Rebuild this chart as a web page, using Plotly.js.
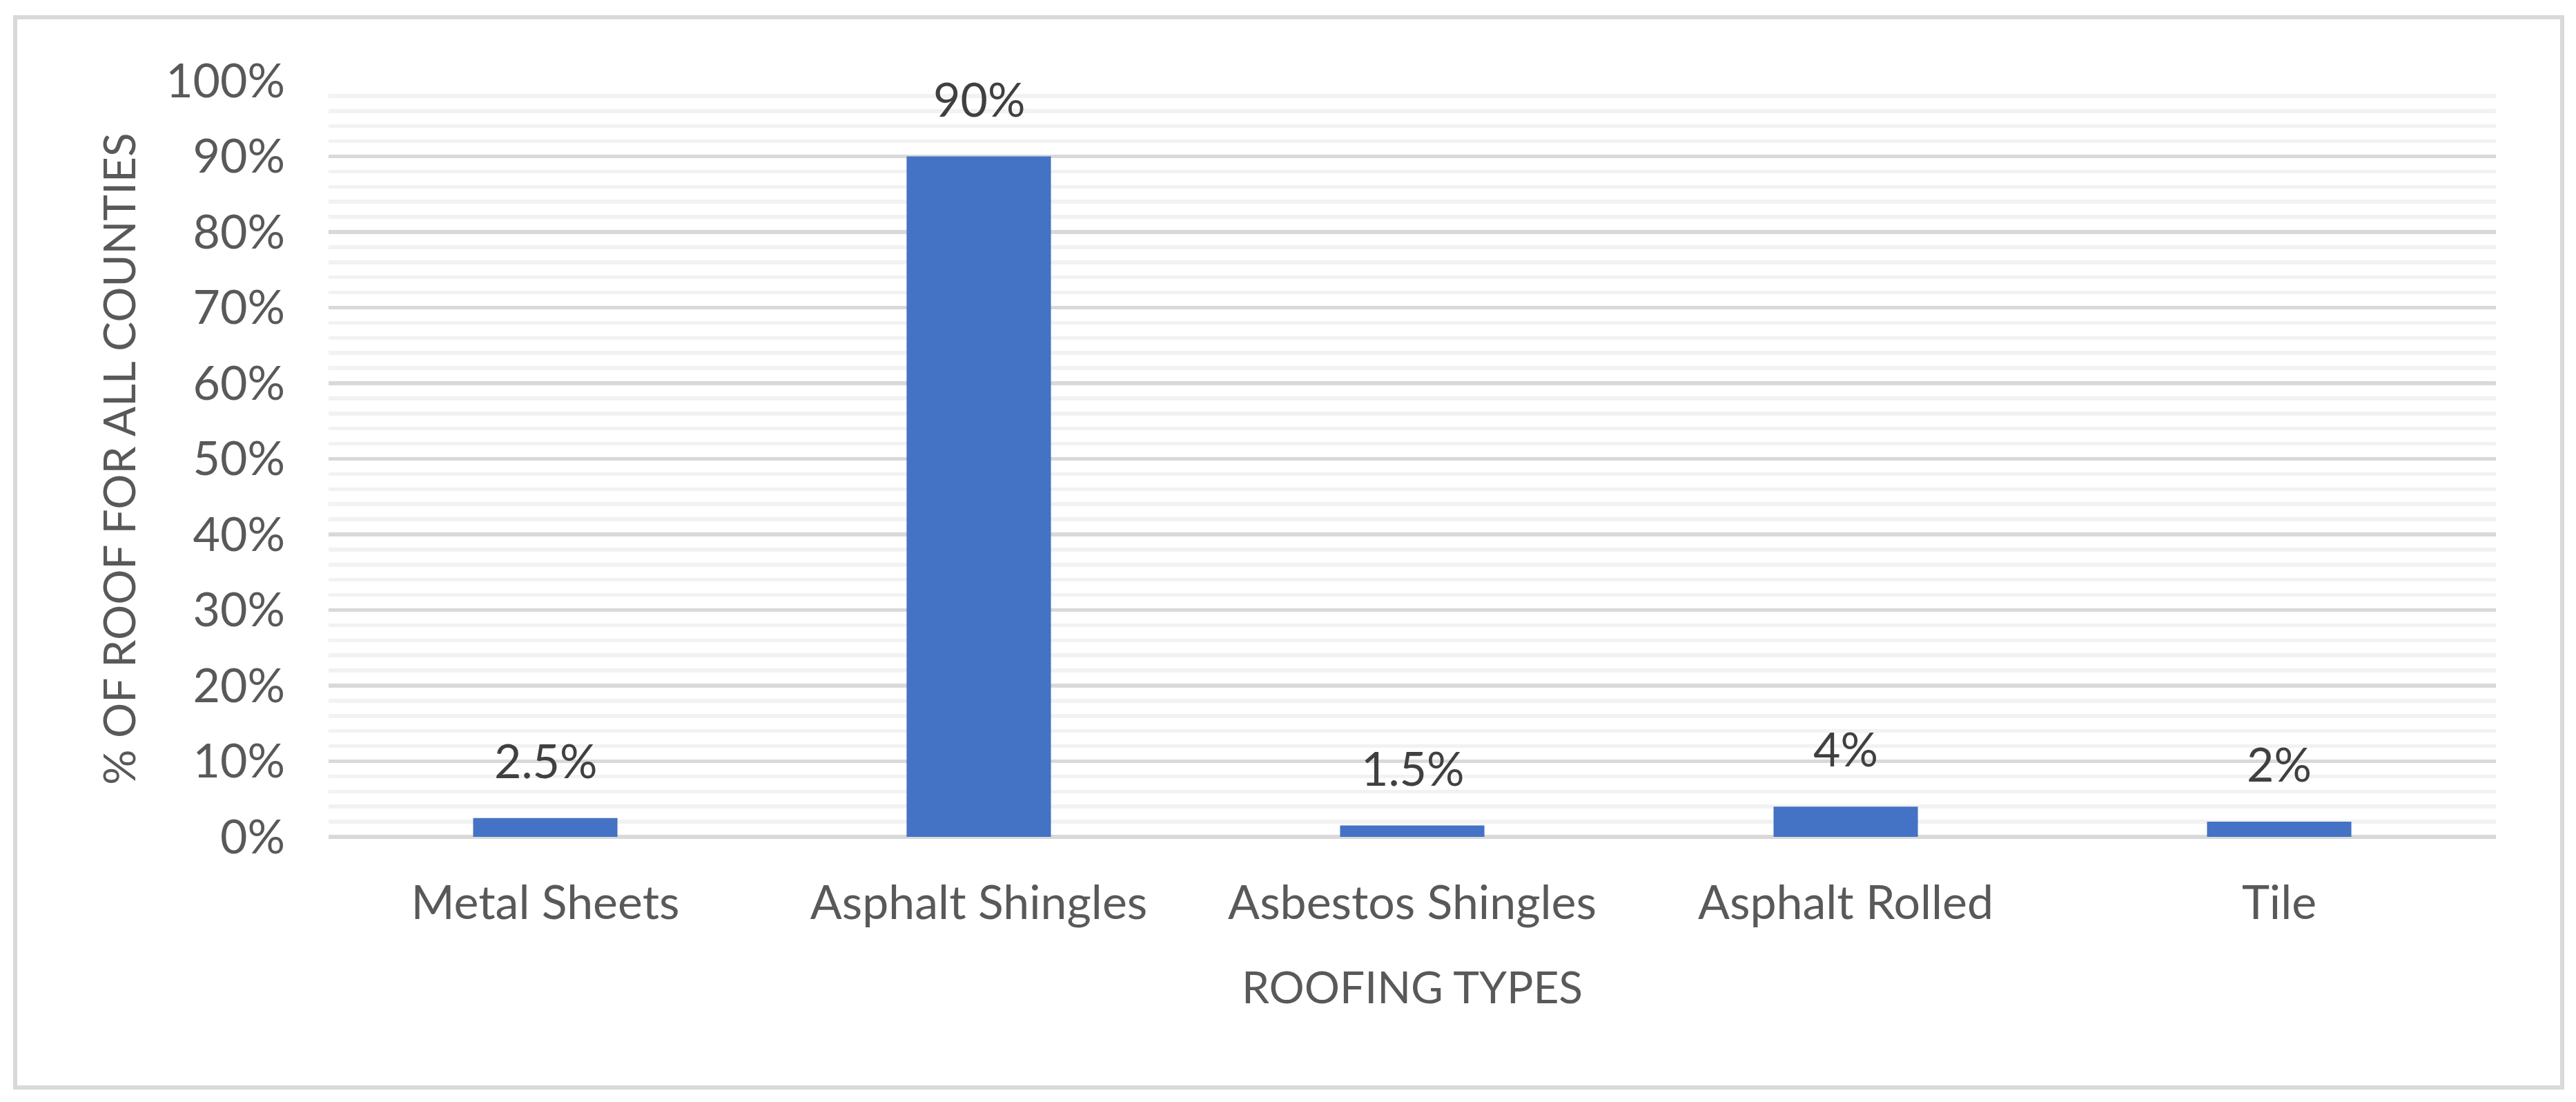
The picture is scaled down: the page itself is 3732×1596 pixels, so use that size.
<!DOCTYPE html>
<html>
<head>
<meta charset="utf-8">
<script src="https://cdn.plot.ly/plotly-3.0.1.min.js"></script>
<style>
  html, body { margin: 0; padding: 0; background: #ffffff; }
  #myDiv { position: absolute; left: 0; top: 0; width: 3732px; height: 1596px; }
  #frame {
    position: absolute; left: 19px; top: 22px; width: 3684px; height: 1544px;
    border: 6px solid #d9d9d9; pointer-events: none;
  }
</style>
</head>
<body>
<div id="myDiv"></div>
<div id="frame"></div>
<script>
var categories = ["Metal Sheets", "Asphalt Shingles", "Asbestos Shingles", "Asphalt Rolled", "Tile"];
var shares = [2.5, 90, 1.5, 4, 2];
var yTicks = [0, 10, 20, 30, 40, 50, 60, 70, 80, 90, 100];

var labelFont = "Lato, 'Open Sans', sans-serif";

var trace1 = {
    x: categories,
    y: shares,
    type: "bar",
    marker: { color: "#4472c4" },
    width: 0.333,
    hoverinfo: "x+y"
};

// data labels sit a fixed distance above each bar
var labels = categories.map(function (c, i) {
    return {
        x: c,
        y: shares[i],
        xref: "x",
        yref: "y",
        text: shares[i] + "%",
        showarrow: false,
        yanchor: "bottom",
        yshift: 42,
        font: { family: labelFont, size: 68, color: "#404040" }
    };
});

var layout = {
    width: 3732,
    height: 1596,
    margin: { l: 476, r: 116, t: 117, b: 384 },
    paper_bgcolor: "#ffffff",
    plot_bgcolor: "#ffffff",
    showlegend: false,
    bargap: 0.667,
    xaxis: {
        type: "category",
        showgrid: false,
        showline: false,
        zeroline: false,
        ticks: "",
        ticklabelstandoff: 50,
        tickfont: { family: labelFont, size: 68, color: "#595959" },
        title: {
            text: "ROOFING TYPES",
            standoff: 64,
            font: { family: labelFont, size: 64, color: "#595959" }
        }
    },
    yaxis: {
        range: [0, 100],
        tickvals: yTicks,
        ticktext: yTicks.map(function (v) { return v + "%"; }),
        showgrid: true,
        gridcolor: "#d9d9d9",
        gridwidth: 5.5,
        zeroline: true,
        zerolinecolor: "#d9d9d9",
        zerolinewidth: 5.5,
        showline: false,
        ticks: "",
        ticklabelstandoff: 62,
        minor: {
            dtick: 2,
            showgrid: true,
            gridcolor: "#f2f2f2",
            gridwidth: 5.5
        },
        tickfont: { family: labelFont, size: 68, color: "#595959" },
        title: {
            text: "% OF ROOF FOR ALL COUNTIES",
            standoff: 22,
            font: { family: labelFont, size: 64, color: "#595959" }
        }
    },
    annotations: labels
};

Plotly.newPlot("myDiv", [trace1], layout, { staticPlot: true });
</script>
</body>
</html>
